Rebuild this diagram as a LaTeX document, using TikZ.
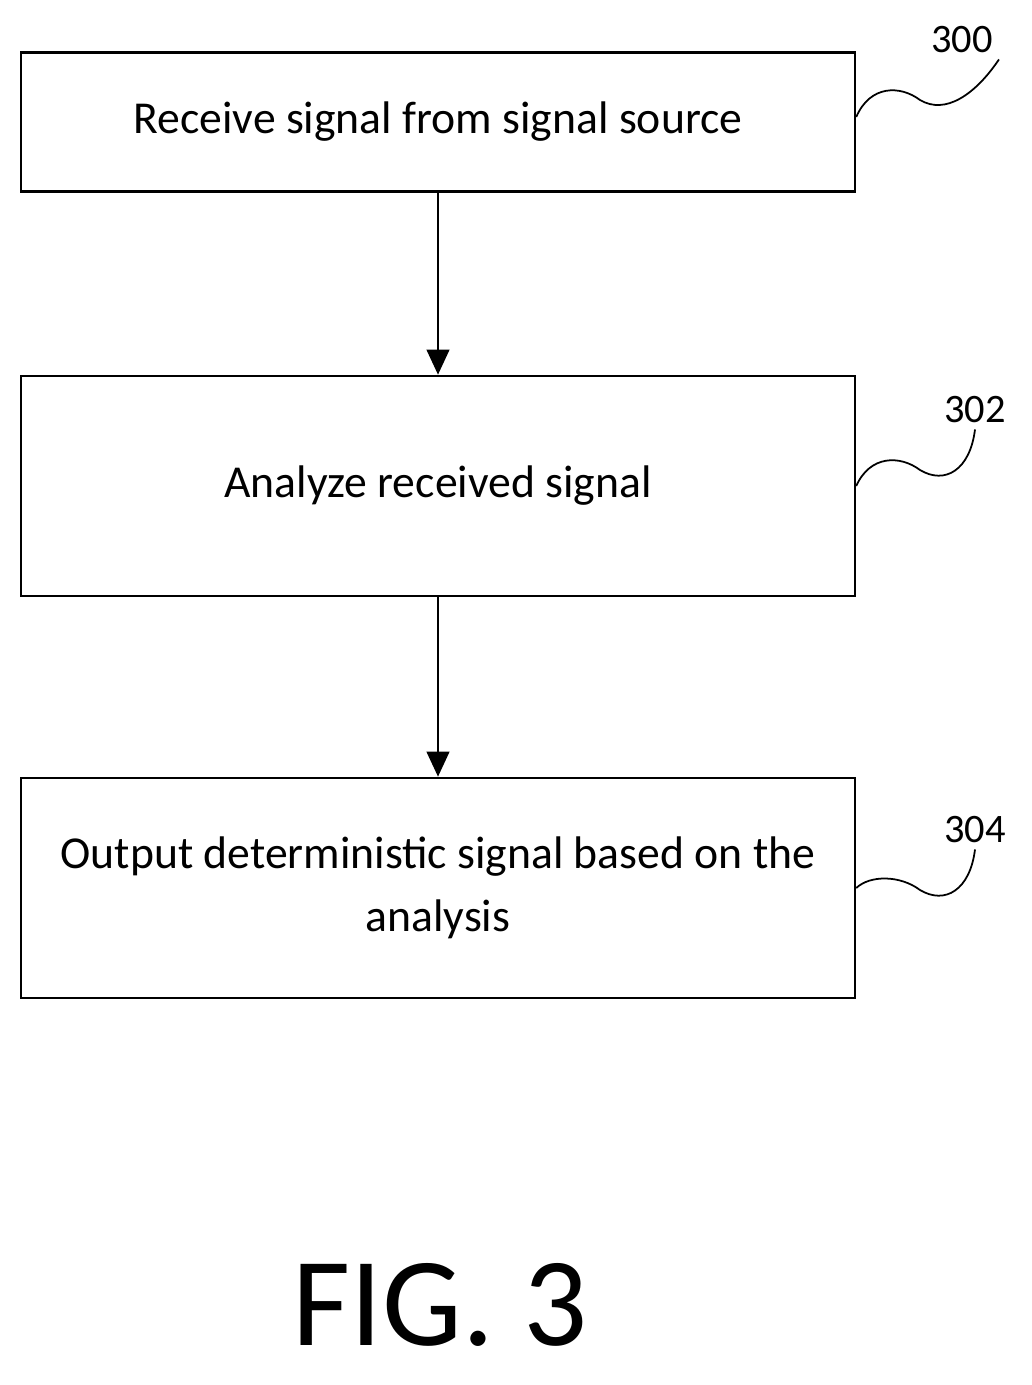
\documentclass[tikz,border=0pt]{standalone}
\usepackage{fontspec}
\setmainfont{Carlito}
\usetikzlibrary{arrows.meta}
\begin{document}
\begin{tikzpicture}[
    x=0.02cm, y=-0.02cm,
    box/.style={rectangle, draw=black, line width=1.5pt, minimum width=16.68cm, align=center, font=\fontsize{26}{36}\selectfont},
    arrow/.style={-{Triangle[length=0.5cm,width=0.45cm]}, line width=1.5pt},
    tag/.style={font=\fontsize{23}{27}\selectfont},
    wave/.style={line width=1pt}
]
    \useasboundingbox (0,0) rectangle (1031,1385);
    % Nodes
    \node[box, minimum height=2.78cm] (s300) at (438,122) {Receive signal from signal source};
    \node[box, minimum height=4.4cm] (s302) at (438,486) {Analyze received signal};
    \node[box, minimum height=4.4cm] (s304) at (438,888) {Output deterministic signal based on the\\analysis};

    % Arrows
    \draw[arrow] (s300) -- (s302);
    \draw[arrow] (s302) -- (s304);

    % Reference numerals
    \node[tag] (n300) at (962,40) {300};
    \node[tag] (n302) at (975,410) {302};
    \node[tag] (n304) at (975,830) {304};
    \draw[wave] (s300.east) ++(0,-5) .. controls (870,85) and (900,85) .. (920,100) .. controls (945,115) and (975,95) .. (n300.south east);
    \draw[wave] (s302.east) .. controls (870,455) and (900,455) .. (920,470) .. controls (945,485) and (970,470) .. (n302.south);
    \draw[wave] (s304.east) .. controls (870,875) and (900,875) .. (920,890) .. controls (945,905) and (970,890) .. (n304.south);

    % Caption
    \node[font=\fontsize{72}{74}\selectfont] (fig) at (440,1305) {FIG. 3};
\end{tikzpicture}
\end{document}
